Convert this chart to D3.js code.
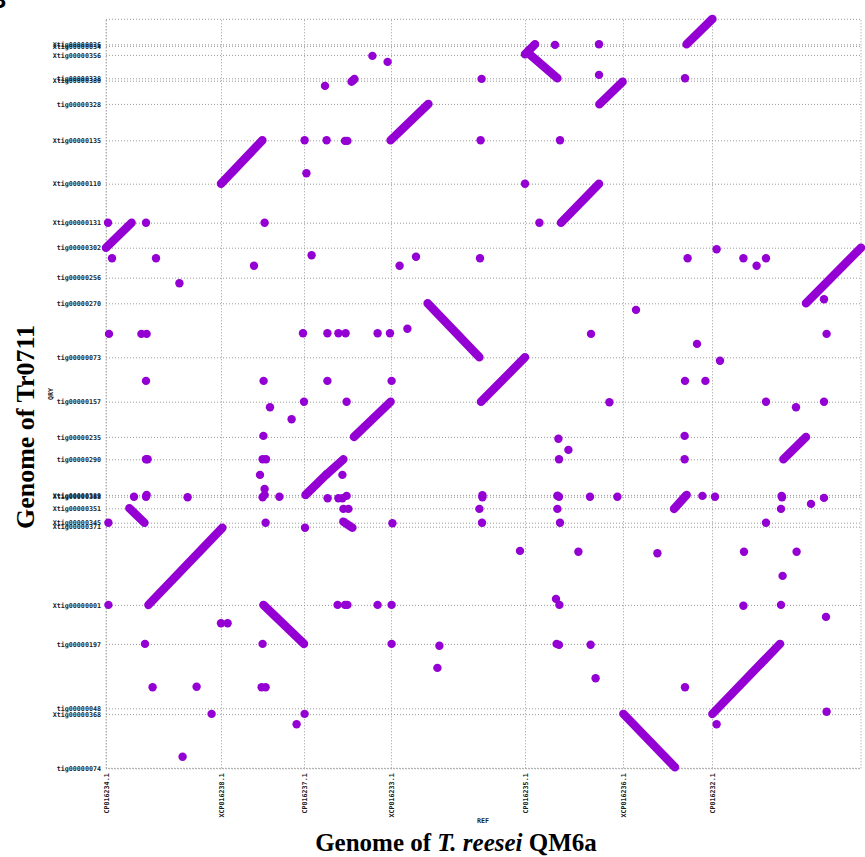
<!DOCTYPE html>
<html>
<head>
<meta charset="utf-8">
<script src="https://cdn.jsdelivr.net/npm/d3@7"></script>
<style>
  html, body { margin: 0; padding: 0; background: #fff; }
  svg { display: block; }
</style>
</head>
<body>
<svg id="chart" width="865" height="857"></svg>
<script>
// Reference (x) tick labels and their positions (Mb)
const refNames = ["CP016234.1","XCP016238.1","CP016237.1","XCP016233.1","CP016235.1","XCP016236.1","CP016232.1"];
const refPos   = [0, 5.75, 9.9, 14.25, 20.95, 25.85, 30.3];
const refLength = 37.75;

// Query (y) tick labels and positions (Mb)
const qryNames = ["Xtig00000026","Xtig00000034","Xtig00000356","tig00000338","Xtig00000380","tig00000328",
  "Xtig00000135","Xtig00000110","Xtig00000131","tig00000302","tig00000256","tig00000270","tig00000073",
  "tig00000157","tig00000235","tig00000290","Xtig00000389","Xtig00000388","Xtig00000351","Xtig00000345",
  "Xtig00000371","Xtig00000001","tig00000197","tig00000048","Xtig00000368","tig00000074"];
const qryPos = [36.2,36.12,35.67,34.5,34.38,33.22,31.4,29.23,27.28,26.03,24.53,23.25,20.55,
  18.33,16.57,15.45,13.67,13.58,13.0,12.28,12.08,8.17,6.22,3.0,2.71,0];
const qryLength = 37.45;

// Alignments: [refStart, qryStart, refEnd, qryEnd] (Mb)
const alignments = [
  [0,26.03,1.28,27.28],[5.75,29.23,7.82,31.4],[14.23,31.4,16.12,33.22],[16.08,23.25,18.67,20.55],
  [12.28,34.33,12.42,34.46],[29.03,36.2,30.32,37.47],[20.95,35.7,21.45,36.2],[21.12,35.75,22.57,34.5],
  [24.67,33.2,25.83,34.33],[22.75,27.28,24.65,29.23],[35.0,23.25,37.75,26.03],[18.75,18.33,20.95,20.55],
  [2.12,8.17,5.82,12.03],[1.17,13.0,1.92,12.28],[7.87,8.17,9.9,6.22],[9.98,13.67,11.03,14.7],
  [11.03,14.7,11.87,15.45],[12.4,16.57,14.23,18.33],[11.87,12.33,12.32,12.03],[25.87,2.72,28.45,0.05],
  [30.32,2.72,33.7,6.22],[33.87,15.45,35.0,16.57],[28.4,12.97,29.03,13.67]
];

// Short matches: [ref, qry] (Mb)
const matches = [
  [0.1,27.28],[2.0,27.28],[0.3,25.5],[2.5,25.5],[3.67,24.25],[0.15,21.72],[1.77,21.72],[2.03,21.72],[2.0,19.37],
  [7.93,27.28],[7.4,25.13],[7.88,19.37],[9.93,31.4],[11.03,31.4],[11.95,31.37],[12.07,31.37],[10.02,29.75],
  [10.95,34.12],[13.32,35.62],[14.08,35.32],[10.28,25.65],[9.85,21.75],[11.07,21.75],[11.62,21.75],[11.98,21.75],
  [13.58,21.75],[14.2,21.75],[15.07,21.98],[11.07,19.37],[14.28,19.37],[14.68,25.13],[15.5,25.58],[18.78,34.47],
  [18.73,31.4],[18.7,25.5],
  [22.45,36.17],[24.65,36.2],[24.65,34.67],[28.95,34.5],[22.7,31.4],[20.95,29.23],[21.67,27.28],[29.08,25.5],
  [30.53,25.95],[31.87,25.5],[32.53,25.13],[33.0,25.5],[35.9,23.45],[36.03,21.72],[26.5,22.92],[24.25,21.72],
  [29.55,21.22],[30.7,20.38],[28.95,19.37],[29.97,19.37],
  [9.9,18.33],[12.03,18.33],[8.2,18.05],[9.28,17.45],[7.87,16.62],[2.0,15.45],[2.08,15.45],[7.83,15.45],[8.0,15.45],
  [7.7,14.67],[11.82,14.67],[7.93,13.97],[1.4,13.58],[2.0,13.58],[2.03,13.67],[4.08,13.55],[7.83,13.55],[7.93,13.67],
  [8.67,13.58],[11.08,13.5],[11.62,13.5],[11.82,13.5],[12.03,13.62],[11.87,12.97],[12.12,12.97],[0.12,12.28],
  [7.98,12.28],[9.95,12.03],[14.32,12.25],[18.82,13.55],[18.82,13.65],[18.67,12.97],[18.8,12.28],[0.12,8.17],[11.58,8.17],
  [11.95,8.17],[12.07,8.17],[13.58,8.17],[14.28,8.17],[5.75,7.25],[6.08,7.25],[1.95,6.22],[7.83,6.22],[14.28,6.22],
  [16.67,6.13],[16.57,5.02],[2.33,4.05],[4.53,4.08],[7.78,4.05],[7.98,4.05],[5.28,2.72],[9.93,2.72],[9.53,2.2],[3.83,0.58],
  [25.17,18.3],[33.0,18.33],[34.5,18.05],[35.9,18.33],[22.62,16.48],[23.12,15.92],[22.65,15.45],[28.93,16.62],
  [28.93,15.45],[22.57,13.63],[22.65,13.58],[24.2,13.58],[25.57,13.58],[29.82,13.62],[30.45,13.58],[33.78,13.62],
  [33.8,13.55],[35.9,13.52],[22.57,12.97],[33.75,12.97],[35.25,13.22],[22.7,12.28],[33.0,12.28],[20.7,10.87],[23.62,10.83],
  [27.57,10.75],[31.9,10.83],[34.53,10.83],[33.83,9.62],[22.5,8.47],[22.67,8.17],[31.87,8.13],[33.75,8.17],
  [36.0,7.57],[22.53,6.22],[22.65,6.17],[24.23,6.18],[24.48,4.5],[28.95,4.05],[36.03,2.83],[30.53,2.2]
];

(function () {
const svg = d3.select("#chart");
const mLeft = 106, mRight = 861, mTop = 19.3, mBottom = 768.3;
const x = d3.scaleLinear().domain([0, refLength]).range([mLeft, mRight]);
const y = d3.scaleLinear().domain([0, qryLength]).range([mBottom, mTop]);
const color = "#9400d3";
const labelColor = "#1a1a1a";
const gridStyle = g => g.selectAll(".tick line")
  .attr("stroke", "#9a9a9a").attr("stroke-width", 1).attr("stroke-dasharray", "1,2");

svg.append("rect").attr("width", 865).attr("height", 857).attr("fill", "#fff");

// Y axis with grid
const yAxis = svg.append("g").attr("transform", `translate(${mLeft},0)`)
  .call(d3.axisLeft(y).tickValues(qryPos).tickFormat((d, i) => qryNames[i])
    .tickSize(-(mRight - mLeft)).tickPadding(5));
yAxis.select(".domain").remove();
yAxis.call(gridStyle);
yAxis.selectAll("text").attr("font-family", "DejaVu Sans Mono").attr("font-size", 6.7)
  .attr("font-weight", "bold").attr("fill", labelColor);

// X axis with grid
const xAxis = svg.append("g").attr("transform", `translate(0,${mBottom})`)
  .call(d3.axisBottom(x).tickValues(refPos).tickFormat((d, i) => refNames[i])
    .tickSize(-(mBottom - mTop)).tickPadding(5));
xAxis.select(".domain").remove();
xAxis.call(gridStyle);
xAxis.selectAll("text").attr("font-family", "DejaVu Sans Mono").attr("font-size", 6.7)
  .attr("font-weight", "bold").attr("fill", labelColor)
  .attr("transform", "rotate(-90)").attr("x", -5).attr("y", 0).attr("dy", "0.35em")
  .style("text-anchor", "end");

// dotted border
svg.append("rect").attr("x", mLeft).attr("y", mTop).attr("width", mRight - mLeft).attr("height", mBottom - mTop)
  .attr("fill", "none").attr("stroke", "#9a9a9a").attr("stroke-dasharray", "1,2");

// axis names
svg.append("text").attr("x", 483).attr("y", 823).attr("text-anchor", "middle")
  .attr("font-family", "DejaVu Sans Mono").attr("font-size", 6.7).attr("font-weight", "bold")
  .attr("fill", labelColor).text("REF");
svg.append("text").attr("transform", "translate(53,394) rotate(-90)").attr("text-anchor", "middle")
  .attr("font-family", "DejaVu Sans Mono").attr("font-size", 6.7).attr("font-weight", "bold")
  .attr("fill", labelColor).text("QRY");

// Data marks
const plot = svg.append("g");
plot.selectAll("line.aln").data(alignments).join("line").attr("class", "aln")
  .attr("x1", d => x(d[0])).attr("y1", d => y(d[1]))
  .attr("x2", d => x(d[2])).attr("y2", d => y(d[3]))
  .attr("stroke", color).attr("stroke-width", 8.5).attr("stroke-linecap", "round");
plot.selectAll("circle.m").data(matches).join("circle").attr("class", "m")
  .attr("cx", d => x(d[0])).attr("cy", d => y(d[1])).attr("r", 4.2).attr("fill", color);

// Titles
svg.append("text").attr("transform", "translate(34,427) rotate(-90)").attr("text-anchor", "middle")
  .attr("font-family", "Liberation Serif").attr("font-weight", "bold").attr("font-size", 26)
  .attr("fill", "#000").text("Genome of Tr0711");
const bt = svg.append("text").attr("x", 456).attr("y", 851).attr("text-anchor", "middle")
  .attr("font-family", "Liberation Serif").attr("font-weight", "bold").attr("font-size", 25)
  .attr("fill", "#000");
bt.append("tspan").text("Genome of ");
bt.append("tspan").attr("font-style", "italic").text("T. reesei");
bt.append("tspan").text(" QM6a");

// cropped panel letter at top-left
svg.append("text").attr("x", -11).attr("y", 8).attr("font-family", "Liberation Sans")
  .attr("font-weight", "bold").attr("font-size", 24).attr("fill", "#000").text("B");
})();
</script>
</body>
</html>
